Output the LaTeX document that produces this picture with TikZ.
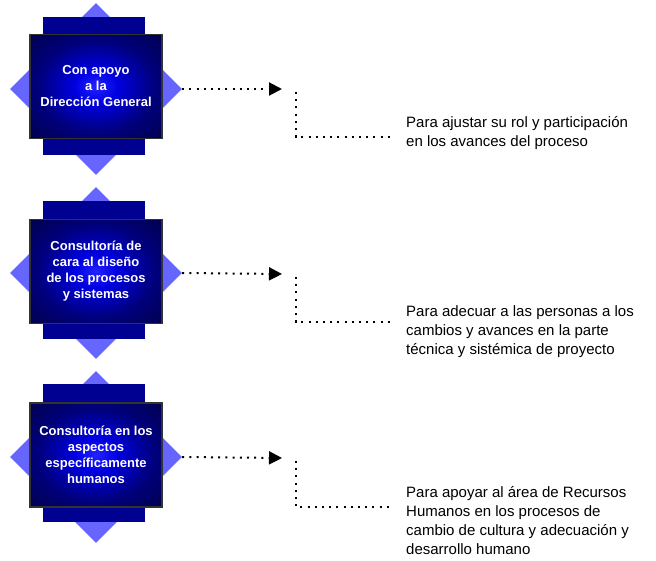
\documentclass[tikz,border=0pt]{standalone}
\usepackage{fontspec}
\setmainfont{Liberation Sans}
\usetikzlibrary{shapes.geometric,arrows.meta}
\definecolor{diamc}{RGB}{102,102,255}
\definecolor{navyb}{RGB}{0,0,145}
\definecolor{glow}{RGB}{35,35,255}
\definecolor{glowb}{RGB}{0,0,225}
\definecolor{glowc}{RGB}{0,0,125}
\definecolor{glowd}{RGB}{0,0,60}
\definecolor{glowe}{RGB}{0,0,22}
\pgfdeclareradialshading{boxglow}{\pgfpoint{0bp}{0bp}}{color(0bp)=(glow); color(8bp)=(glowb); color(22bp)=(glowc); color(40bp)=(glowd); color(55bp)=(glowe); color(72bp)=(black)}
\begin{document}
\begin{tikzpicture}[x=1pt,y=-1pt,
 diam/.style={diamond, fill=diamc, minimum width=172pt, minimum height=172pt, inner sep=0pt, aspect=1},
 backbox/.style={fill=navyb, minimum width=102pt, minimum height=138pt, inner sep=0pt},
 frontbox/.style={draw=black!80, line width=1.2pt, shade, shading=boxglow, minimum width=132pt, minimum height=104pt, inner sep=0pt, text=white, font=\fontsize{13}{16}\selectfont\bfseries, align=center},
 dots/.style={line width=2pt, dash pattern=on 2pt off 5.2pt},
 tipline/.style={dots, -{Triangle[length=13pt,width=13pt]}},
 note/.style={anchor=north west, inner sep=0pt, align=left, font=\fontsize{15}{19}\selectfont},
]
\useasboundingbox[fill=white] (0,0) rectangle (656,560);

% group 1
\node[diam] (d1) at (96,89) {};
\node[backbox] (b1) at (94,86) {};
\node[frontbox] (f1) at (96,86.5) {Con apoyo\\a la\\Dirección General};
\coordinate (a1) at (282,89);
\coordinate (v1) at (296,92);
\coordinate (c1) at (296,137);
\coordinate (e1) at (393,137);
\draw[tipline] (d1.east) -- (a1);
\draw[dots] (v1) -- (c1) -- (e1);
\node[note] (t1) at (406,127-13.3) {\strut Para ajustar su rol y participación\\en los avances del proceso};

% group 2
\node[diam] (d2) at (96,273) {};
\node[backbox] (b2) at (94,269.5) {};
\node[frontbox] (f2) at (96,271.5) {Consultoría de\\cara al diseño\\de los procesos\\y sistemas};
\coordinate (a2) at (282,274);
\coordinate (v2) at (296,277);
\coordinate (c2) at (296,322);
\coordinate (e2) at (393,322);
\draw[tipline] (d2.east) -- (a2);
\draw[dots] (v2) -- (c2) -- (e2);
\node[note] (t2) at (406,316-13.3) {\strut Para adecuar a las personas a los\\cambios y avances en la parte\\técnica y sistémica de proyecto};

% group 3
\node[diam] (d3) at (96,457) {};
\node[backbox] (b3) at (94,452.5) {};
\node[frontbox] (f3) at (96,455) {Consultoría en los\\aspectos\\específicamente\\humanos};
\coordinate (a3) at (282,458);
\coordinate (v3) at (296,461);
\coordinate (c3) at (296,507);
\coordinate (e3) at (393,507);
\draw[tipline] (d3.east) -- (a3);
\draw[dots] (v3) -- (c3) -- (e3);
\node[note] (t3) at (406,497-13.3) {\strut Para apoyar al área de Recursos\\Humanos en los procesos de\\cambio de cultura y adecuación y\\desarrollo humano};
\end{tikzpicture}
\end{document}
